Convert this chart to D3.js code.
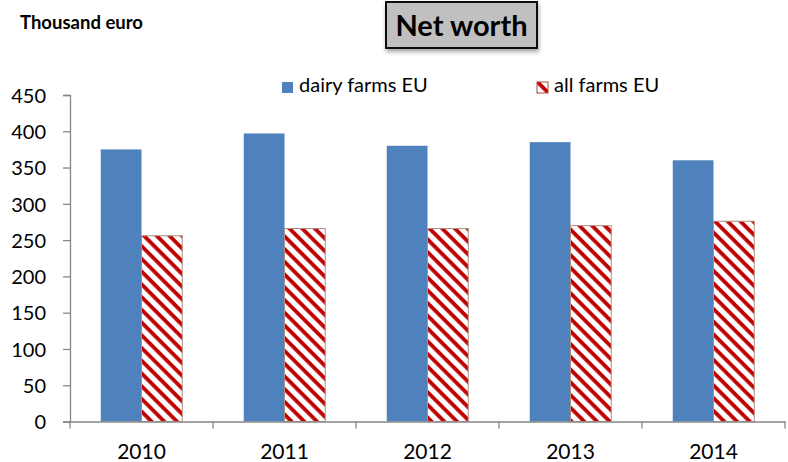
<!DOCTYPE html>
<html><head><meta charset="utf-8">
<script src="https://cdn.jsdelivr.net/npm/d3@7"></script>
<style>body{margin:0;background:#fff}svg{display:block}</style>
</head><body>
<svg id="c" width="788" height="462"></svg>
<script>
const categories = ["2010","2011","2012","2013","2014"];
const dairyFarms = [375, 397, 380, 385, 360];
const allFarms = [256, 266, 266, 270, 276];
const seriesNames = ["dairy farms EU","all farms EU"];
const yTicks = [0,50,100,150,200,250,300,350,400,450];

const svg = d3.select("#c");
const font = "Lato, 'Open Sans', sans-serif";
const x0 = 70, x1 = 785, yTop = 95, yBot = 421.5;

const defs = svg.append("defs");
const pat = defs.append("pattern").attr("id","stripes").attr("patternUnits","userSpaceOnUse")
  .attr("width",9).attr("height",9).attr("patternTransform","rotate(45)");
pat.append("rect").attr("width",9).attr("height",9).attr("fill","#fff");
pat.append("rect").attr("x",0).attr("y",0).attr("width",9).attr("height",3.8).attr("fill","#c00000");
const f = defs.append("filter").attr("id","sh").attr("x","-20%").attr("y","-20%").attr("width","140%").attr("height","160%");
f.append("feDropShadow").attr("dx",1).attr("dy",3).attr("stdDeviation",2).attr("flood-color","#000").attr("flood-opacity",0.35);

const x = d3.scaleBand().domain(categories).range([x0,x1]).paddingInner(0.43).paddingOuter(0.215);
const xs = d3.scaleBand().domain(seriesNames).range([0,x.bandwidth()]);
const y = d3.scaleLinear().domain([0,450]).range([yBot,yTop]);

// y axis
const yAx = svg.append("g").attr("transform",`translate(${x0},0)`)
  .call(d3.axisLeft(y).tickValues(yTicks).tickSize(7).tickPadding(17));
yAx.select(".domain").attr("stroke","#868686").attr("stroke-width",1.3);
yAx.selectAll(".tick line").attr("stroke","#868686").attr("stroke-width",1.3);
yAx.selectAll("text").attr("font-family",font).attr("font-size",20).attr("fill","#000").attr("dy","0.36em");

// bars
const data = categories.map((c,i)=>({c, v:[dairyFarms[i], allFarms[i]]}));
const g = svg.append("g");
data.forEach(d=>{
  g.append("rect").attr("x",x(d.c)+xs(seriesNames[0])).attr("y",y(d.v[0]))
    .attr("width",xs.bandwidth()).attr("height",y(0)-y(d.v[0])).attr("fill","#4f81bd");
  g.append("rect").attr("x",x(d.c)+xs(seriesNames[1])).attr("y",y(d.v[1]))
    .attr("width",xs.bandwidth()).attr("height",y(0)-y(d.v[1])).attr("fill","url(#stripes)")
    .attr("stroke","#b09080").attr("stroke-width",1);
});

// x axis
const xBand = d3.scaleBand().domain(categories).range([x0,x1]);
const xAx = svg.append("g").attr("transform",`translate(0,${yBot})`)
  .call(d3.axisBottom(xBand).tickSize(0).tickPadding(23));
xAx.select(".domain").attr("stroke","#868686").attr("stroke-width",1.3);
xAx.selectAll("text").attr("font-family",font).attr("font-size",21).attr("fill","#000");
svg.append("g").selectAll("line").data(categories.concat(["end"])).join("line")
  .attr("x1",(d,i)=>x0+i*xBand.step()).attr("x2",(d,i)=>x0+i*xBand.step())
  .attr("y1",yBot).attr("y2",yBot+7).attr("stroke","#868686").attr("stroke-width",1.3);

// title
svg.append("rect").attr("x",386).attr("y",2).attr("width",151).attr("height",46)
  .attr("fill","#c0c0c0").attr("stroke","#111").attr("stroke-width",2).attr("filter","url(#sh)");
svg.append("text").attr("x",461.5).attr("y",36).attr("text-anchor","middle")
  .attr("font-family",font).attr("font-weight","bold").attr("font-size",29).text("Net worth");

svg.append("text").attr("x",20).attr("y",29).attr("font-family",font).attr("font-weight","bold")
  .attr("font-size",18.5).text("Thousand euro");

// legend
const leg = [{n:seriesNames[0], x:282, fill:"#4f81bd"},{n:seriesNames[1], x:537, fill:"url(#stripes)"}];
leg.forEach(l=>{
  svg.append("rect").attr("x",l.x).attr("y",82).attr("width",11).attr("height",11).attr("fill",l.fill)
    .attr("stroke", l.fill==="#4f81bd"?"none":"#a05040").attr("stroke-width",1);
  svg.append("text").attr("x",l.x+17).attr("y",92).attr("font-family",font).attr("font-size",20).text(l.n);
});
</script>
</body></html>
